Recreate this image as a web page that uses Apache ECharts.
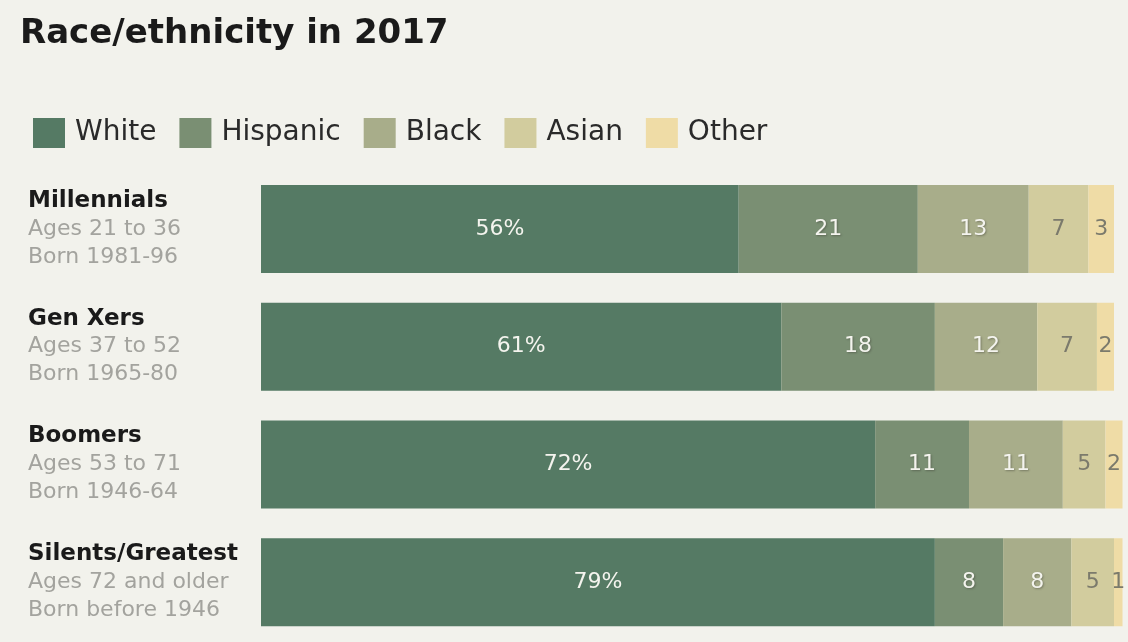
<!DOCTYPE html>
<html>
<head>
<meta charset="utf-8">
<script src="https://cdn.jsdelivr.net/npm/echarts@6/dist/echarts.min.js"></script>
<style>
  html, body { margin: 0; padding: 0; background: #f2f2ec; }
  #chart { width: 1128px; height: 642px; }
</style>
</head>
<body>
<div id="chart"></div>
<script>
const categories = ['Millennials', 'Gen Xers', 'Boomers', 'Silents/Greatest'];
const ages = ['Ages 21 to 36', 'Ages 37 to 52', 'Ages 53 to 71', 'Ages 72 and older'];
const born = ['Born 1981-96', 'Born 1965-80', 'Born 1946-64', 'Born before 1946'];

const seriesNames = ['White', 'Hispanic', 'Black', 'Asian', 'Other'];
const white = [56, 61, 72, 79];
const hispanic = [21, 18, 11, 8];
const black = [13, 12, 11, 8];
const asian = [7, 7, 5, 5];
const other = [3, 2, 2, 1];

const colors = ['#557a64', '#7a8f73', '#a8ad8a', '#d2cc9e', '#efdca6'];
const labelColors = ['#f4f4ee', '#f4f4ee', '#f4f4ee', '#7b7a6c', '#7b7a6c'];
const values = [white, hispanic, black, asian, other];

const chart = echarts.init(document.getElementById('chart'));

const series = values.map((data, i) => ({
  name: seriesNames[i],
  type: 'bar',
  stack: 'total',
  barWidth: 88,
  clip: false,
  data: data,
  itemStyle: { color: colors[i] },
  label: {
    show: true,
    position: 'inside',
    color: labelColors[i],
    fontFamily: 'DejaVu Sans',
    fontSize: 22,
    formatter: p => (i === 0 ? p.value + '%' : String(p.value)),
    textShadowColor: i > 0 && i < 3 ? 'rgba(60,60,50,0.45)' : 'transparent',
    textShadowBlur: 2,
    textShadowOffsetX: 1,
    textShadowOffsetY: 1
  },
  emphasis: { disabled: true }
}));

const option = {
  backgroundColor: '#f2f2ec',
  animation: false,
  title: {
    text: 'Race/ethnicity in 2017',
    left: 15,
    top: 12,
    textStyle: {
      fontFamily: 'DejaVu Sans',
      fontWeight: 'bold',
      fontSize: 34,
      color: '#1a1a1a'
    }
  },
  legend: {
    left: 28,
    top: 113,
    itemWidth: 32,
    itemHeight: 30,
    itemGap: 23,
    icon: 'rect',
    data: seriesNames,
    selectedMode: false,
    textStyle: {
      fontFamily: 'DejaVu Sans',
      fontSize: 28,
      color: '#2a2a2a',
      padding: [0, 0, 0, 5]
    }
  },
  grid: {
    left: 261,
    right: 14,
    top: 170,
    bottom: 1
  },
  xAxis: {
    type: 'value',
    min: 0,
    max: 100,
    show: false
  },
  yAxis: {
    type: 'category',
    data: categories,
    inverse: true,
    axisLine: { show: false },
    axisTick: { show: false },
    axisLabel: {
      align: 'left',
      margin: 233,
      formatter: (v, idx) => '{a|' + v + '}\n{b|' + ages[idx] + '}\n{b|' + born[idx] + '}',
      rich: {
        a: {
          fontFamily: 'DejaVu Sans',
          fontWeight: 'bold',
          fontSize: 23,
          color: '#1a1a1a',
          lineHeight: 28
        },
        b: {
          fontFamily: 'DejaVu Sans',
          fontSize: 22,
          color: '#a3a39e',
          lineHeight: 28
        }
      }
    }
  },
  series: series
};

chart.setOption(option);
</script>
</body>
</html>
